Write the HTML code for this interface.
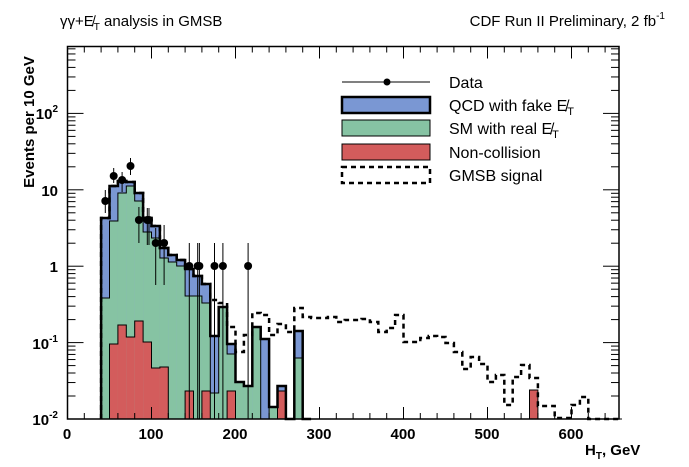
<!DOCTYPE html>
<html><head><meta charset="utf-8"><style>
body{margin:0;background:#fff}
svg{display:block;font-family:"Liberation Sans",sans-serif}
</style></head><body>
<svg id="s" width="689" height="467" xmlns="http://www.w3.org/2000/svg">
<rect width="689" height="467" fill="#fff"/>
<g id="h"></g>
<rect x="67.5" y="46.5" width="551.5" height="372.5" fill="none" stroke="#000" stroke-width="1.5"/>
<g id="t" stroke="#000" stroke-width="1"></g>
<g font-weight="bold" font-size="15" text-anchor="end">
<text x="58" y="425">10<tspan font-size="10" dy="-7">-2</tspan></text>
<text x="58" y="349">10<tspan font-size="10" dy="-7">-1</tspan></text>
<text x="58" y="272">1</text>
<text x="58" y="196">10</text>
<text x="58" y="119">10<tspan font-size="10" dy="-7">2</tspan></text>
</g>
<g font-weight="bold" font-size="15" text-anchor="middle">
<text x="67" y="439">0</text><text x="151" y="439">100</text><text x="235" y="439">200</text>
<text x="319" y="439">300</text><text x="403" y="439">400</text><text x="487" y="439">500</text><text x="571" y="439">600</text>
</g>
<text x="585" y="455" font-weight="bold" font-size="15">H<tspan font-size="10" dy="4">T</tspan><tspan dy="-4">, GeV</tspan></text>
<text transform="translate(34,122) rotate(-90)" text-anchor="middle" font-weight="bold" font-size="15">Events per 10 GeV</text>
<text x="60" y="26" font-size="15">γγ+E̸<tspan font-size="10" dy="4">T</tspan><tspan dy="-4"> analysis in GMSB</tspan></text>
<text x="665" y="26" font-size="15" text-anchor="end">CDF Run II Preliminary, 2 fb<tspan font-size="10" dy="-7">-1</tspan></text>
<g font-size="16">
<line x1="342" y1="82" x2="430" y2="82" stroke="#000" stroke-width="1"/><circle cx="387" cy="82" r="3.5"/>
<rect x="342" y="97" width="88" height="16" fill="#7a97d3" stroke="#000" stroke-width="2.5"/>
<rect x="342" y="120" width="88" height="16" fill="#86c3a3" stroke="#000" stroke-width="1"/>
<rect x="342" y="144" width="88" height="16" fill="#d35c5c" stroke="#000" stroke-width="1"/>
<rect x="342" y="167" width="88" height="16" fill="none" stroke="#000" stroke-width="2.5" stroke-dasharray="5,4"/>
<text x="449" y="88">Data</text>
<text x="449" y="111">QCD with fake E̸<tspan font-size="11" dy="4">T</tspan></text>
<text x="449" y="134">SM with real E̸<tspan font-size="11" dy="4">T</tspan></text>
<text x="449" y="158">Non-collision</text>
<text x="449" y="181">GMSB signal</text>
</g>
</svg>
<script>
const B=419,X=g=>67.5+0.84*g,ns="http://www.w3.org/2000/svg";
const h=document.getElementById('h');
function el(t,a){const e=document.createElementNS(ns,t);for(const k in a)e.setAttribute(k,a[k]);h.appendChild(e);return e;}
const d={40:[218,298],50:[186,221,344],60:[181,193,325],70:[182,186,337],80:[193,201,321],90:[218,232,342],
100:[226,238,368],110:[248,258,367],120:[255,262],130:[260,266],140:[269,296,391],150:[276,296],160:[284,303,391],
170:[336,393],180:[307,307],190:[344,354,391],200:[382,382],210:[386,386],220:[327,327],230:[339,null],240:[407,407],
250:[386,null,391],270:[331,358],550:[390,null,390]};
const cols=['#7a97d3','#86c3a3','#d35c5c'];
for(let k=0;k<3;k++)for(const g in d){const v=d[g][k];if(v)el('rect',{x:X(+g),y:v,width:8.45,height:B-v,fill:cols[k]});}
function step(k,w){let p='M'+X(0)+' '+B;for(let g=0;g<=650;g+=10){const v=(d[g]&&d[g][k])?d[g][k]:B;p+=' L'+X(g)+' '+v+' L'+X(g+10)+' '+v;}
 el('path',{d:p,fill:'none',stroke:'#000','stroke-width':w});}
step(2,1);step(1,1);
// total outline
let p='M'+X(40)+' '+B;
for(let g=40;g<=280;g+=10){const v=d[g]?d[g][0]:B;p+=' L'+X(g)+' '+v+' L'+X(g+10)+' '+v;}
el('path',{d:p,fill:'none',stroke:'#000','stroke-width':2.5});
const s={40:218,50:186,60:181,70:182,80:193,90:218,100:226,110:248,120:255,130:260,140:269,150:276,160:284,170:300,
180:303,190:327,200:352,210:335,220:313,230:315,240:335,250:324,260:332,270:308,280:317,290:318,300:318,310:317,320:322,
330:320,340:320,350:319,360:322,370:332,380:328,390:315,400:342,410:342,420:338,430:336,440:337,450:343,460:352,470:369,
480:357,490:364,500:382,510:375,520:405,530:377,540:365,550:378,560:406,570:406,580:418,590:418,600:405,610:397,620:419,630:419,640:419,650:419};
let q='M'+X(40)+' '+B;
for(let g=40;g<=650;g+=10){q+=' L'+X(g)+' '+s[g]+' L'+X(g+10>657?657:g+10)+' '+s[g];}
el('path',{d:q,fill:'none',stroke:'#000','stroke-width':2.5,'stroke-dasharray':'5,4'});
const pts=[[45,201,190,213],[55,176,168,183],[65,180,172,192],[75,166,158,175],[85,220,207,243],[95,220,208,245],[97,220,208,245],
[105,243,228,285],[115,243,225,285],[145,266,243,419],[155,266,243,419],[157,266,243,419],[175,266,243,419],[185,266,243,419],[215,266,243,419]];
for(const [g,y,a,b] of pts){el('line',{x1:X(g),x2:X(g),y1:a,y2:b,stroke:'#000','stroke-width':1});el('circle',{cx:X(g),cy:y,r:4,fill:'#000'});}
const t=document.getElementById('t');
function tl(x1,y1,x2,y2){const e=document.createElementNS(ns,'line');e.setAttribute('x1',x1);e.setAttribute('y1',y1);e.setAttribute('x2',x2);e.setAttribute('y2',y2);t.appendChild(e);}
for(let g=0;g<=650;g+=20){const x=X(g),L=g%100==0?12:6;tl(x,B,x,B-L);tl(x,46.5,x,46.5+L);}
for(let dcd=-2;dcd<=2;dcd++){for(let m=1;m<10;m++){const y=419-(dcd+2+Math.log10(m))*76.4;if(y<46.5)continue;const L=m==1?16:8;tl(67.5,y,67.5+L,y);tl(619,y,619-L,y);}}
</script>
</body></html>
